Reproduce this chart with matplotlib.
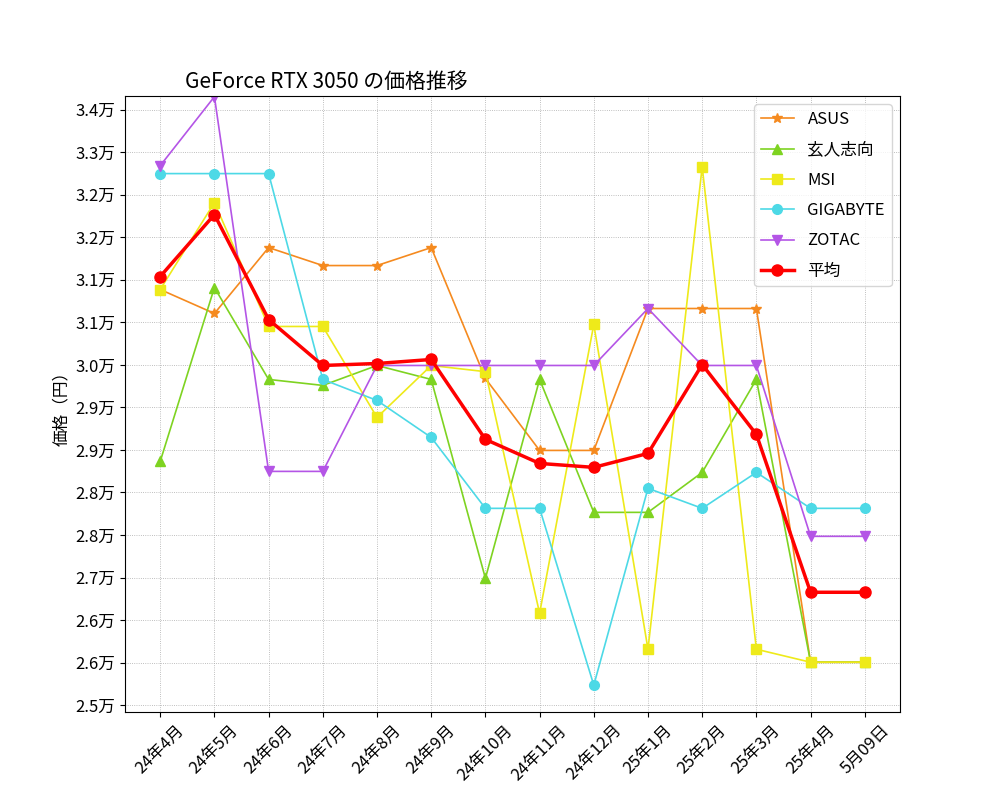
import matplotlib
matplotlib.use("Agg")
import matplotlib.pyplot as plt
from matplotlib import font_manager
from matplotlib.ticker import FuncFormatter, MultipleLocator

names = {f.name for f in font_manager.fontManager.ttflist}
fam = "Noto Sans Mono CJK JP" if "Noto Sans Mono CJK JP" in names else "Noto Sans CJK JP"
plt.rcParams["font.family"] = fam

months = ["24年4月","24年5月","24年6月","24年7月","24年8月","24年9月","24年10月","24年11月","24年12月","25年1月","25年2月","25年3月","25年4月","5月09日"]
asus = [31107,30755,31723,31459,31459,31723,29800,28743,28743,30828,30828,30828,25631,25631]
kuro = [28582,31136,29786,29698,29991,29786,26864,29786,27833,27833,28420,29786,25631,25631]
msi = [31107,32384,30564,30564,29228,29991,29900,26350,30593,25822,32912,25822,25631,25631]
giga = [32810,32810,32810,29786,29477,28934,27892,27892,25294,28186,27892,28420,27892,27892]
zotac = [32927,33940,28435,28435,29991,29991,29991,29991,29991,30828,29991,29991,27481,27481]
avg = [31298,32208,30666,29991,30020,30079,28905,28552,28494,28699,30005,28978,26659,26659]

fig = plt.figure(figsize=(10, 8), dpi=100)
ax = fig.add_subplot(111)
x = range(len(months))
ax.plot(x, asus, marker="*", color="#f58a1f", lw=1.2, ms=7, label="ASUS")
ax.plot(x, kuro, marker="^", color="#7ed321", lw=1.2, ms=7, label="玄人志向")
ax.plot(x, msi, marker="s", color="#eeea1a", lw=1.2, ms=7, label="MSI")
ax.plot(x, giga, marker="o", color="#4dd9e6", lw=1.2, ms=7, label="GIGABYTE")
ax.plot(x, zotac, marker="v", color="#b455e6", lw=1.2, ms=7, label="ZOTAC")
ax.plot(x, avg, marker="o", color="red", lw=2.5, ms=8, label="平均")

ax.set_xticks(list(x))
ax.set_xticklabels(months, rotation=45, fontsize=12)
ax.yaxis.set_major_locator(MultipleLocator(625))
ax.yaxis.set_major_formatter(FuncFormatter(lambda v, p: f"{v/10000:.1f}万"))
ax.set_ylim(24900, 33950)
ax.tick_params(axis="y", labelsize=12)
ax.set_ylabel("価格（円）", fontsize=12)
ax.grid(True, linestyle=":", linewidth=0.6, color="#aaaaaa")
ax.set_title("GeForce RTX 3050 の価格推移", fontsize=15, x=0.26)
ax.legend(loc="upper right", fontsize=12, labelspacing=0.8)
fig.savefig("out.png")
